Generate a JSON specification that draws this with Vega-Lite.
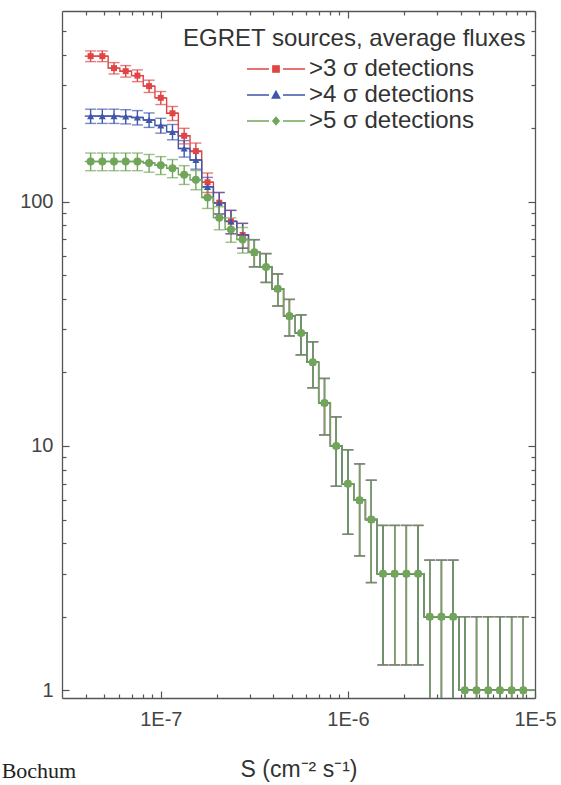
{
  "$schema": "https://vega.github.io/schema/vega-lite/v6.json",
  "width": 473,
  "height": 687,
  "autosize": {"type": "none"},
  "padding": {"left": 62, "top": 11, "right": 26, "bottom": 87},
  "background": "white",
  "config": {"view": {"stroke": null}, "font": "Liberation Sans"},
  "title": {"text": "Bochum", "orient": "bottom", "anchor": "start", "font": "Liberation Serif", "fontSize": 22, "fontWeight": "normal", "color": "#222", "dx": -18, "offset": -20},
  "datasets": {
    "bins": [
      {"i": 0, "x": 4.2170e-8, "xlo": 3.9242e-8, "xhi": 4.5316e-8},
      {"i": 1, "x": 4.8697e-8, "xlo": 4.5316e-8, "xhi": 5.2330e-8},
      {"i": 2, "x": 5.6234e-8, "xlo": 5.2330e-8, "xhi": 6.0430e-8},
      {"i": 3, "x": 6.4938e-8, "xlo": 6.0430e-8, "xhi": 6.9783e-8},
      {"i": 4, "x": 7.4989e-8, "xlo": 6.9783e-8, "xhi": 8.0584e-8},
      {"i": 5, "x": 8.6596e-8, "xlo": 8.0584e-8, "xhi": 9.3057e-8},
      {"i": 6, "x": 1.0e-7, "xlo": 9.3057e-8, "xhi": 1.0746e-7},
      {"i": 7, "x": 1.1548e-7, "xlo": 1.0746e-7, "xhi": 1.2409e-7},
      {"i": 8, "x": 1.3335e-7, "xlo": 1.2409e-7, "xhi": 1.4330e-7},
      {"i": 9, "x": 1.5399e-7, "xlo": 1.4330e-7, "xhi": 1.6548e-7},
      {"i": 10, "x": 1.7783e-7, "xlo": 1.6548e-7, "xhi": 1.9110e-7},
      {"i": 11, "x": 2.0535e-7, "xlo": 1.9110e-7, "xhi": 2.2068e-7},
      {"i": 12, "x": 2.3714e-7, "xlo": 2.2068e-7, "xhi": 2.5483e-7},
      {"i": 13, "x": 2.7384e-7, "xlo": 2.5483e-7, "xhi": 2.9427e-7},
      {"i": 14, "x": 3.1623e-7, "xlo": 2.9427e-7, "xhi": 3.3982e-7},
      {"i": 15, "x": 3.6517e-7, "xlo": 3.3982e-7, "xhi": 3.9242e-7},
      {"i": 16, "x": 4.2170e-7, "xlo": 3.9242e-7, "xhi": 4.5316e-7},
      {"i": 17, "x": 4.8697e-7, "xlo": 4.5316e-7, "xhi": 5.2330e-7},
      {"i": 18, "x": 5.6234e-7, "xlo": 5.2330e-7, "xhi": 6.0430e-7},
      {"i": 19, "x": 6.4938e-7, "xlo": 6.0430e-7, "xhi": 6.9783e-7},
      {"i": 20, "x": 7.4989e-7, "xlo": 6.9783e-7, "xhi": 8.0584e-7},
      {"i": 21, "x": 8.6596e-7, "xlo": 8.0584e-7, "xhi": 9.3057e-7},
      {"i": 22, "x": 1.0e-6, "xlo": 9.3057e-7, "xhi": 1.0746e-6},
      {"i": 23, "x": 1.1548e-6, "xlo": 1.0746e-6, "xhi": 1.2409e-6},
      {"i": 24, "x": 1.3335e-6, "xlo": 1.2409e-6, "xhi": 1.4330e-6},
      {"i": 25, "x": 1.5399e-6, "xlo": 1.4330e-6, "xhi": 1.6548e-6},
      {"i": 26, "x": 1.7783e-6, "xlo": 1.6548e-6, "xhi": 1.9110e-6},
      {"i": 27, "x": 2.0535e-6, "xlo": 1.9110e-6, "xhi": 2.2068e-6},
      {"i": 28, "x": 2.3714e-6, "xlo": 2.2068e-6, "xhi": 2.5483e-6},
      {"i": 29, "x": 2.7384e-6, "xlo": 2.5483e-6, "xhi": 2.9427e-6},
      {"i": 30, "x": 3.1623e-6, "xlo": 2.9427e-6, "xhi": 3.3982e-6},
      {"i": 31, "x": 3.6517e-6, "xlo": 3.3982e-6, "xhi": 3.9242e-6},
      {"i": 32, "x": 4.2170e-6, "xlo": 3.9242e-6, "xhi": 4.5316e-6},
      {"i": 33, "x": 4.8697e-6, "xlo": 4.5316e-6, "xhi": 5.2330e-6},
      {"i": 34, "x": 5.6234e-6, "xlo": 5.2330e-6, "xhi": 6.0430e-6},
      {"i": 35, "x": 6.4938e-6, "xlo": 6.0430e-6, "xhi": 6.9783e-6},
      {"i": 36, "x": 7.4989e-6, "xlo": 6.9783e-6, "xhi": 8.0584e-6},
      {"i": 37, "x": 8.6596e-6, "xlo": 8.0584e-6, "xhi": 1.0e-5}
    ],
    "counts": [
      {"s": "3", "i": 0, "n": 394, "lo": 374.2, "hi": 413.8},
      {"s": "3", "i": 1, "n": 394, "lo": 374.2, "hi": 413.8},
      {"s": "3", "i": 2, "n": 352, "lo": 333.2, "hi": 370.8},
      {"s": "3", "i": 3, "n": 342, "lo": 323.5, "hi": 360.5},
      {"s": "3", "i": 4, "n": 328, "lo": 309.9, "hi": 346.1},
      {"s": "3", "i": 5, "n": 297, "lo": 279.8, "hi": 314.2},
      {"s": "3", "i": 6, "n": 266, "lo": 249.7, "hi": 282.3},
      {"s": "3", "i": 7, "n": 230, "lo": 214.8, "hi": 245.2},
      {"s": "3", "i": 8, "n": 186, "lo": 172.4, "hi": 199.6},
      {"s": "3", "i": 9, "n": 161, "lo": 148.3, "hi": 173.7},
      {"s": "3", "i": 10, "n": 120, "lo": 109.0, "hi": 131.0},
      {"s": "3", "i": 11, "n": 99, "lo": 89.0, "hi": 109.0},
      {"s": "3", "i": 12, "n": 83, "lo": 73.9, "hi": 92.1},
      {"s": "3", "i": 13, "n": 73, "lo": 64.5, "hi": 81.5},
      {"s": "3", "i": 14, "n": 62, "lo": 54.1, "hi": 69.9},
      {"s": "3", "i": 15, "n": 54, "lo": 46.7, "hi": 61.3},
      {"s": "3", "i": 16, "n": 44, "lo": 37.4, "hi": 50.6},
      {"s": "3", "i": 17, "n": 34, "lo": 28.2, "hi": 39.8},
      {"s": "3", "i": 18, "n": 29, "lo": 23.6, "hi": 34.4},
      {"s": "3", "i": 19, "n": 22, "lo": 17.3, "hi": 26.7},
      {"s": "3", "i": 20, "n": 15, "lo": 11.1, "hi": 18.9},
      {"s": "3", "i": 21, "n": 10, "lo": 6.84, "hi": 13.16},
      {"s": "3", "i": 22, "n": 7, "lo": 4.35, "hi": 9.65},
      {"s": "3", "i": 23, "n": 6, "lo": 3.55, "hi": 8.45},
      {"s": "3", "i": 24, "n": 5, "lo": 2.76, "hi": 7.24},
      {"s": "3", "i": 25, "n": 3, "lo": 1.27, "hi": 4.73},
      {"s": "3", "i": 26, "n": 3, "lo": 1.27, "hi": 4.73},
      {"s": "3", "i": 27, "n": 3, "lo": 1.27, "hi": 4.73},
      {"s": "3", "i": 28, "n": 3, "lo": 1.27, "hi": 4.73},
      {"s": "3", "i": 29, "n": 2, "lo": 0.59, "hi": 3.41},
      {"s": "3", "i": 30, "n": 2, "lo": 0.59, "hi": 3.41},
      {"s": "3", "i": 31, "n": 2, "lo": 0.59, "hi": 3.41},
      {"s": "3", "i": 32, "n": 1, "lo": 0.3, "hi": 2},
      {"s": "3", "i": 33, "n": 1, "lo": 0.3, "hi": 2},
      {"s": "3", "i": 34, "n": 1, "lo": 0.3, "hi": 2},
      {"s": "3", "i": 35, "n": 1, "lo": 0.3, "hi": 2},
      {"s": "3", "i": 36, "n": 1, "lo": 0.3, "hi": 2},
      {"s": "3", "i": 37, "n": 1, "lo": 0.3, "hi": 2},
      {"s": "4", "i": 0, "n": 224, "lo": 209.0, "hi": 239.0},
      {"s": "4", "i": 1, "n": 224, "lo": 209.0, "hi": 239.0},
      {"s": "4", "i": 2, "n": 224, "lo": 209.0, "hi": 239.0},
      {"s": "4", "i": 3, "n": 223, "lo": 208.1, "hi": 237.9},
      {"s": "4", "i": 4, "n": 221, "lo": 206.1, "hi": 235.9},
      {"s": "4", "i": 5, "n": 216, "lo": 201.3, "hi": 230.7},
      {"s": "4", "i": 6, "n": 205, "lo": 190.7, "hi": 219.3},
      {"s": "4", "i": 7, "n": 193, "lo": 179.1, "hi": 206.9},
      {"s": "4", "i": 8, "n": 165, "lo": 152.2, "hi": 177.8},
      {"s": "4", "i": 9, "n": 148, "lo": 135.8, "hi": 160.2},
      {"s": "4", "i": 10, "n": 115, "lo": 104.3, "hi": 125.7},
      {"s": "4", "i": 11, "n": 99, "lo": 89.0, "hi": 109.0},
      {"s": "4", "i": 12, "n": 83, "lo": 73.9, "hi": 92.1},
      {"s": "4", "i": 13, "n": 73, "lo": 64.5, "hi": 81.5},
      {"s": "4", "i": 14, "n": 62, "lo": 54.1, "hi": 69.9},
      {"s": "4", "i": 15, "n": 54, "lo": 46.7, "hi": 61.3},
      {"s": "4", "i": 16, "n": 44, "lo": 37.4, "hi": 50.6},
      {"s": "4", "i": 17, "n": 34, "lo": 28.2, "hi": 39.8},
      {"s": "4", "i": 18, "n": 29, "lo": 23.6, "hi": 34.4},
      {"s": "4", "i": 19, "n": 22, "lo": 17.3, "hi": 26.7},
      {"s": "4", "i": 20, "n": 15, "lo": 11.1, "hi": 18.9},
      {"s": "4", "i": 21, "n": 10, "lo": 6.84, "hi": 13.16},
      {"s": "4", "i": 22, "n": 7, "lo": 4.35, "hi": 9.65},
      {"s": "4", "i": 23, "n": 6, "lo": 3.55, "hi": 8.45},
      {"s": "4", "i": 24, "n": 5, "lo": 2.76, "hi": 7.24},
      {"s": "4", "i": 25, "n": 3, "lo": 1.27, "hi": 4.73},
      {"s": "4", "i": 26, "n": 3, "lo": 1.27, "hi": 4.73},
      {"s": "4", "i": 27, "n": 3, "lo": 1.27, "hi": 4.73},
      {"s": "4", "i": 28, "n": 3, "lo": 1.27, "hi": 4.73},
      {"s": "4", "i": 29, "n": 2, "lo": 0.59, "hi": 3.41},
      {"s": "4", "i": 30, "n": 2, "lo": 0.59, "hi": 3.41},
      {"s": "4", "i": 31, "n": 2, "lo": 0.59, "hi": 3.41},
      {"s": "4", "i": 32, "n": 1, "lo": 0.3, "hi": 2},
      {"s": "4", "i": 33, "n": 1, "lo": 0.3, "hi": 2},
      {"s": "4", "i": 34, "n": 1, "lo": 0.3, "hi": 2},
      {"s": "4", "i": 35, "n": 1, "lo": 0.3, "hi": 2},
      {"s": "4", "i": 36, "n": 1, "lo": 0.3, "hi": 2},
      {"s": "4", "i": 37, "n": 1, "lo": 0.3, "hi": 2},
      {"s": "5", "i": 0, "n": 146, "lo": 133.9, "hi": 158.1},
      {"s": "5", "i": 1, "n": 146, "lo": 133.9, "hi": 158.1},
      {"s": "5", "i": 2, "n": 146, "lo": 133.9, "hi": 158.1},
      {"s": "5", "i": 3, "n": 146, "lo": 133.9, "hi": 158.1},
      {"s": "5", "i": 4, "n": 146, "lo": 133.9, "hi": 158.1},
      {"s": "5", "i": 5, "n": 144, "lo": 132.0, "hi": 156.0},
      {"s": "5", "i": 6, "n": 141, "lo": 129.1, "hi": 152.9},
      {"s": "5", "i": 7, "n": 137, "lo": 125.3, "hi": 148.7},
      {"s": "5", "i": 8, "n": 129, "lo": 117.6, "hi": 140.4},
      {"s": "5", "i": 9, "n": 123, "lo": 111.9, "hi": 134.1},
      {"s": "5", "i": 10, "n": 104, "lo": 93.8, "hi": 114.2},
      {"s": "5", "i": 11, "n": 86, "lo": 76.7, "hi": 95.3},
      {"s": "5", "i": 12, "n": 77, "lo": 68.2, "hi": 85.8},
      {"s": "5", "i": 13, "n": 70, "lo": 61.6, "hi": 78.4},
      {"s": "5", "i": 14, "n": 62, "lo": 54.1, "hi": 69.9},
      {"s": "5", "i": 15, "n": 54, "lo": 46.7, "hi": 61.3},
      {"s": "5", "i": 16, "n": 44, "lo": 37.4, "hi": 50.6},
      {"s": "5", "i": 17, "n": 34, "lo": 28.2, "hi": 39.8},
      {"s": "5", "i": 18, "n": 29, "lo": 23.6, "hi": 34.4},
      {"s": "5", "i": 19, "n": 22, "lo": 17.3, "hi": 26.7},
      {"s": "5", "i": 20, "n": 15, "lo": 11.1, "hi": 18.9},
      {"s": "5", "i": 21, "n": 10, "lo": 6.84, "hi": 13.16},
      {"s": "5", "i": 22, "n": 7, "lo": 4.35, "hi": 9.65},
      {"s": "5", "i": 23, "n": 6, "lo": 3.55, "hi": 8.45},
      {"s": "5", "i": 24, "n": 5, "lo": 2.76, "hi": 7.24},
      {"s": "5", "i": 25, "n": 3, "lo": 1.27, "hi": 4.73},
      {"s": "5", "i": 26, "n": 3, "lo": 1.27, "hi": 4.73},
      {"s": "5", "i": 27, "n": 3, "lo": 1.27, "hi": 4.73},
      {"s": "5", "i": 28, "n": 3, "lo": 1.27, "hi": 4.73},
      {"s": "5", "i": 29, "n": 2, "lo": 0.59, "hi": 3.41},
      {"s": "5", "i": 30, "n": 2, "lo": 0.59, "hi": 3.41},
      {"s": "5", "i": 31, "n": 2, "lo": 0.59, "hi": 3.41},
      {"s": "5", "i": 32, "n": 1, "lo": 0.3, "hi": 2},
      {"s": "5", "i": 33, "n": 1, "lo": 0.3, "hi": 2},
      {"s": "5", "i": 34, "n": 1, "lo": 0.3, "hi": 2},
      {"s": "5", "i": 35, "n": 1, "lo": 0.3, "hi": 2},
      {"s": "5", "i": 36, "n": 1, "lo": 0.3, "hi": 2},
      {"s": "5", "i": 37, "n": 1, "lo": 0.3, "hi": 2}
    ]
  },
  "data": {"name": "counts"},
  "transform": [
    {"lookup": "i", "from": {"data": {"name": "bins"}, "key": "i", "fields": ["x", "xlo", "xhi"]}}
  ],
  "layer": [
    {
      "mark": {"type": "rule", "strokeWidth": 1.4, "clip": true},
      "encoding": {
        "x": {"field": "xlo", "type": "quantitative", "scale": {"type": "log", "domain": [2.965e-8, 1e-5], "nice": false},
          "axis": {"orient": "bottom", "values": [4e-8, 5e-8, 6e-8, 7e-8, 8e-8, 9e-8, 1e-7, 2e-7, 3e-7, 4e-7, 5e-7, 6e-7, 7e-7, 8e-7, 9e-7, 1e-6, 2e-6, 3e-6, 4e-6, 5e-6, 6e-6, 7e-6, 8e-6, 9e-6, 1e-5],
            "labelExpr": "abs(log(datum.value)/LN10 - round(log(datum.value)/LN10)) < 0.001 ? '1E' + round(log(datum.value)/LN10) : ''",
            "tickSize": {"condition": {"test": "abs(log(datum.value)/LN10 - round(log(datum.value)/LN10)) < 0.001", "value": -7}, "value": -4},
            "labelPadding": 18, "labelFlush": false, "labelOverlap": false, "labelBound": false,
            "labelFontSize": 20, "labelColor": "#444", "labelFont": "Liberation Sans",
            "domainColor": "#555", "domainWidth": 1.3, "tickColor": "#555", "tickWidth": 1.2, "grid": false,
            "title": "S (cm⁻² s⁻¹)", "titleFont": "Liberation Sans", "titleFontSize": 23, "titleFontWeight": "normal", "titleColor": "#333", "titlePadding": 26}},
        "x2": {"field": "xhi"},
        "y": {"field": "n", "type": "quantitative", "scale": {"type": "log", "domain": [0.93, 603], "nice": false},
          "axis": {"orient": "left", "values": [1, 2, 3, 4, 5, 6, 7, 8, 9, 10, 20, 30, 40, 50, 60, 70, 80, 90, 100, 200, 300, 400, 500],
            "labelExpr": "abs(log(datum.value)/LN10 - round(log(datum.value)/LN10)) < 0.001 ? datum.label : ''",
            "tickSize": {"condition": {"test": "abs(log(datum.value)/LN10 - round(log(datum.value)/LN10)) < 0.001", "value": -7}, "value": -4},
            "labelPadding": 16, "labelOverlap": false, "labelBound": false,
            "labelFontSize": 20, "labelColor": "#444", "labelFont": "Liberation Sans",
            "domainColor": "#555", "domainWidth": 1.3, "tickColor": "#555", "tickWidth": 1.2, "grid": false, "title": null}},
        "color": {"field": "s", "type": "nominal", "scale": {"domain": ["3", "4", "5"], "range": ["#e04444", "#3f56aa", "#70a55a"]}}
      }
    },
    {
      "mark": {"type": "rule", "strokeWidth": 1.4, "clip": true},
      "encoding": {
        "x": {"field": "x", "type": "quantitative", "scale": {"type": "log", "domain": [2.965e-8, 1e-5], "nice": false},
          "axis": {"orient": "top", "values": [4e-8, 5e-8, 6e-8, 7e-8, 8e-8, 9e-8, 1e-7, 2e-7, 3e-7, 4e-7, 5e-7, 6e-7, 7e-7, 8e-7, 9e-7, 1e-6, 2e-6, 3e-6, 4e-6, 5e-6, 6e-6, 7e-6, 8e-6, 9e-6, 1e-5],
            "labels": false, "title": null, "grid": false,
            "tickSize": {"condition": {"test": "abs(log(datum.value)/LN10 - round(log(datum.value)/LN10)) < 0.001", "value": -7}, "value": -4},
            "domainColor": "#555", "domainWidth": 1.3, "tickColor": "#555", "tickWidth": 1.2}},
        "y": {"field": "lo", "type": "quantitative", "scale": {"type": "log", "domain": [0.93, 603], "nice": false},
          "axis": {"orient": "right", "values": [1, 2, 3, 4, 5, 6, 7, 8, 9, 10, 20, 30, 40, 50, 60, 70, 80, 90, 100, 200, 300, 400, 500],
            "labels": false, "title": null, "grid": false,
            "tickSize": {"condition": {"test": "abs(log(datum.value)/LN10 - round(log(datum.value)/LN10)) < 0.001", "value": -7}, "value": -4},
            "domainColor": "#555", "domainWidth": 1.3, "tickColor": "#555", "tickWidth": 1.2}},
        "y2": {"field": "hi"},
        "color": {"field": "s", "type": "nominal"}
      }
    },
    {
      "mark": {"type": "tick", "orient": "horizontal", "size": 11, "thickness": 1.4, "clip": true},
      "encoding": {
        "x": {"field": "x", "type": "quantitative", "axis": null},
        "y": {"field": "lo", "type": "quantitative", "axis": null},
        "color": {"field": "s", "type": "nominal"}
      }
    },
    {
      "mark": {"type": "tick", "orient": "horizontal", "size": 11, "thickness": 1.4, "clip": true},
      "encoding": {
        "x": {"field": "x", "type": "quantitative", "axis": null},
        "y": {"field": "hi", "type": "quantitative", "axis": null},
        "color": {"field": "s", "type": "nominal"}
      }
    },
    {
      "mark": {"type": "line", "interpolate": "step", "strokeWidth": 1.4, "clip": true},
      "encoding": {
        "x": {"field": "x", "type": "quantitative", "axis": null},
        "y": {"field": "n", "type": "quantitative", "axis": null},
        "color": {"field": "s", "type": "nominal"}
      }
    },
    {
      "mark": {"type": "point", "filled": true, "opacity": 1, "clip": true},
      "encoding": {
        "x": {"field": "x", "type": "quantitative", "axis": null},
        "y": {"field": "n", "type": "quantitative", "axis": null},
        "shape": {"condition": [{"test": "datum.s == '3'", "value": "square"}, {"test": "datum.s == '4'", "value": "triangle-up"}], "value": "circle"},
        "size": {"condition": [{"test": "datum.s == '3'", "value": 36}, {"test": "datum.s == '4'", "value": 50}], "value": 64},
        "color": {"field": "s", "type": "nominal",
          "legend": {"title": "EGRET sources, average fluxes", "orient": "none", "legendX": 121, "legendY": 16, "padding": 0,
            "titleFont": "Liberation Sans", "titleFontSize": 24, "titleFontWeight": "normal", "titleColor": "#333", "titlePadding": 6, "titleLimit": 600,
            "labelFont": "Liberation Sans", "labelFontSize": 24, "labelColor": "#333", "labelLimit": 500,
            "labelExpr": "'>' + datum.label + ' σ detections'",
            "symbolSize": 400, "symbolOffset": 81, "labelOffset": 21, "rowPadding": 2, "symbolStrokeWidth": 1.3, "symbolOpacity": 1,
            "encode": {"symbols": {"update": {
              "shape": {"signal": "datum.value == '3' ? 'M-2.9,0H-0.7M0.7,0H2.9M-0.32,-0.32H0.32V0.32H-0.32Z' : datum.value == '4' ? 'M-2.9,0H-0.7M0.7,0H2.9M0,-0.38L0.38,0.3H-0.38Z' : 'M-2.9,0H-0.7M0.7,0H2.9M0,-0.38L0.32,0L0,0.38L-0.32,0Z'"},
              "stroke": {"scale": "color", "field": "value"},
              "fill": {"scale": "color", "field": "value"}
            }}}}}
      }
    }
  ],
  "resolve": {"axis": {"x": "independent", "y": "independent"}}
}
